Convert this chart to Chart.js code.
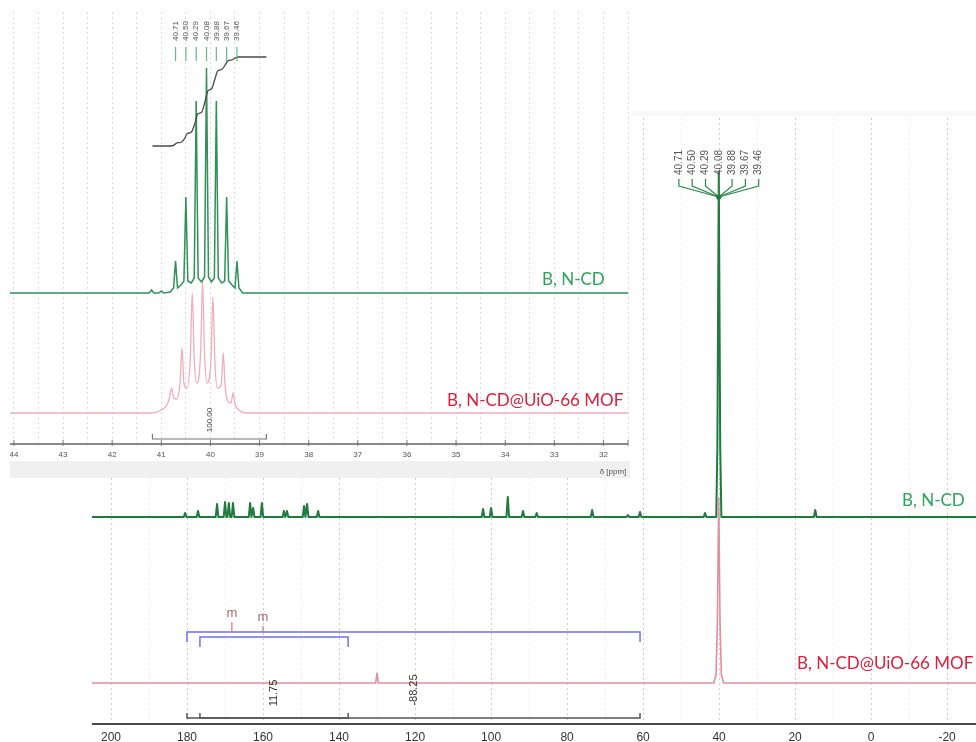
<!DOCTYPE html>
<html>
<head>
<meta charset="utf-8">
<title>13C NMR – B, N-CD and B, N-CD@UiO-66 MOF</title>
<script src="https://cdn.jsdelivr.net/npm/chart.js@4.4.1/dist/chart.umd.min.js"></script>
<style>
  html, body { margin: 0; padding: 0; background: #fff; }
  #stage { position: relative; width: 976px; height: 742px; overflow: hidden; background: #fff; }
  #main { position: absolute; left: 0; top: 0; }
  #insetBox { position: absolute; left: 10px; top: 0; width: 622px; height: 478px; overflow: hidden; background: #fff; }
  #inset { position: absolute; left: -20px; top: 0; }
</style>
</head>
<body>
<div id="stage">
  <canvas id="main" width="976" height="742"></canvas>
  <div id="insetBox"><canvas id="inset" width="652" height="478"></canvas></div>
</div>
<script>
// ---------------- full spectrum (δ, ppm) ----------------
const mainTickLabels = [200, 180, 160, 140, 120, 100, 80, 60, 40, 20, 0, -20];

// B, N-CD: resolved carbon lines and their heights
const cdShiftPpm    = [180.5, 177.1, 172.1, 170.0, 169.0, 167.9, 163.4, 162.6, 160.3, 154.5, 153.7,
                       149.2, 148.4, 145.5, 102.1, 100.0, 95.6, 91.6, 88.0, 73.4, 64.0, 60.8, 43.7, 14.7];
const cdShiftHeight = [4, 6, 13, 15, 14, 14, 14, 9, 14, 6, 6,
                       11, 13, 6, 8, 9, 20, 6, 4, 7, 2, 5, 4, 7];
// DMSO-d6 septet as seen at full width
const cdSolventPpm    = [40.75, 40.45, 40.08, 39.70, 39.40];
const cdSolventHeight = [0, 70, 345, 70, 0];

// B, N-CD@UiO-66 MOF
const mofShiftPpm    = [130.0];
const mofShiftHeight = [10];
const mofSolventPpm    = [41.4, 40.8, 40.45, 40.1, 39.75, 39.4, 38.8];
const mofSolventHeight = [0, 8, 60, 185, 60, 8, 0];

// integration regions (ppm) and their values
const integralFrom   = [180.0, 176.6];
const integralTo     = [60.8, 137.6];
const integralLabels = ['-88.25', '11.75'];
// multiplet markers
const multipletPpm    = [168.2, 160.0];
const multipletLabels = ['m', 'm'];

// ---------------- expansion 31.5 – 44 ppm ----------------
const insetTickLabels = [44, 43, 42, 41, 40, 39, 38, 37, 36, 35, 34, 33, 32];
const septetPpm = [40.71, 40.50, 40.29, 40.08, 39.88, 39.67, 39.46];

const insetCdPpm = [44.08, 41.25, 41.20, 41.15, 41.05, 41.00, 40.95, 40.82, 40.75, 40.71, 40.67, 40.60,
                    40.54, 40.50, 40.46, 40.39, 40.33, 40.29, 40.25, 40.18, 40.12, 40.08, 40.04, 39.98,
                    39.92, 39.88, 39.84, 39.77, 39.71, 39.67, 39.63, 39.56, 39.50, 39.46, 39.42, 39.34, 31.5];
const insetCdInt = [0, 0, 3, 0, 0, 2, 0, 1, 5, 32, 5, 8,
                    12, 96, 12, 10, 15, 192, 15, 11, 16, 225, 16, 11,
                    15, 192, 15, 10, 12, 96, 12, 8, 5, 32, 5, 0, 0];

const insetMofPpm = [44.08, 41.20, 41.00, 40.90, 40.84, 40.79, 40.75, 40.69, 40.62, 40.58, 40.54, 40.48,
                     40.41, 40.37, 40.33, 40.28, 40.20, 40.16, 40.12, 40.07, 39.99, 39.95, 39.91, 39.86,
                     39.78, 39.74, 39.70, 39.65, 39.58, 39.54, 39.50, 39.42, 39.25, 31.5];
const insetMofInt = [0, 0, 3, 7, 14, 25, 15, 14, 30, 65, 30, 25,
                     55, 120, 55, 30, 60, 131, 60, 30, 52, 116, 52, 25,
                     28, 60, 26, 12, 10, 20, 9, 3, 0, 0];

// running integral of the septet (%)
const integralPpm = [41.18, 40.80, 40.74, 40.68, 40.60, 40.53, 40.47, 40.39, 40.32, 40.26, 40.18,
                     40.11, 40.05, 39.98, 39.91, 39.85, 39.77, 39.70, 39.64, 39.56, 39.49, 39.43, 38.86];
const integralPct = [0, 0, 1.0, 3.5, 4.2, 8, 14, 15.5, 25, 36, 38,
                     50, 62, 64, 75, 84.5, 86, 91, 96, 96.8, 99, 100, 100];
const integralTotal = '100.00';

// ---------------- layout constants ----------------
const MAIN_MIN = -27.6, MAIN_MAX = 205;
const MAIN_CD_BASE = 207, MAIN_MOF_BASE = 41;     // vertical offsets of stacked traces
const LINE_HW = 0.35;                              // drawn half-width of a single line (ppm)
const INSET_MIN = 31.5, INSET_MAX = 44.08;
const INSET_CD_BASE = 151, INSET_MOF_BASE = 31;
const INT_BASE = 298, INT_SCALE = 0.89;

const GREEN = '#1f7a3d', PINK = '#e38d9e';
const LABEL_GREEN = '#2ea35a', LABEL_RED = '#e01e3c';
const LABEL_FONT = '17px Lato, "Open Sans", sans-serif';

function buildSpectrum(shiftPpm, shiftHeight, multPpm, multHeight, offset, lo, hi) {
  const pts = [{ x: hi, y: offset }, { x: lo, y: offset }];
  shiftPpm.forEach((p, i) => {
    pts.push({ x: p + LINE_HW, y: offset }, { x: p, y: offset + shiftHeight[i] }, { x: p - LINE_HW, y: offset });
  });
  multPpm.forEach((p, i) => pts.push({ x: p, y: offset + multHeight[i] }));
  return pts.sort((a, b) => b.x - a.x);
}
const pairs = (xs, ys, offset = 0, scale = 1) => xs.map((x, i) => ({ x, y: offset + ys[i] * scale }));

function rotatedText(ctx, text, x, y, align) {
  ctx.save();
  ctx.translate(x, y);
  ctx.rotate(-Math.PI / 2);
  ctx.textAlign = align;
  ctx.textBaseline = 'middle';
  ctx.fillText(text, 0, 0);
  ctx.restore();
}
function bracket(ctx, x1, x2, y, dy) {
  ctx.beginPath();
  ctx.moveTo(x1, y + dy); ctx.lineTo(x1, y); ctx.lineTo(x2, y); ctx.lineTo(x2, y + dy);
  ctx.stroke();
}

// ---------------- full spectrum chart ----------------
const mainGrid = [];
mainTickLabels.forEach(v => { mainGrid.push(v); if (v > -20) mainGrid.push(v - 10); });

const mainDecor = {
  id: 'mainDecor',
  beforeDraw(chart) {
    const ctx = chart.ctx;
    ctx.save();
    ctx.fillStyle = '#f8f8f8';
    ctx.fillRect(630, 111, 346, 5);
    ctx.restore();
  },
  afterDraw(chart) {
    const { ctx, chartArea: a, scales: { x } } = chart;
    ctx.save();
    // axis line
    ctx.strokeStyle = '#4a4a4a'; ctx.lineWidth = 2;
    ctx.beginPath(); ctx.moveTo(a.left, a.bottom); ctx.lineTo(a.right, a.bottom); ctx.stroke();

    // septet fan above the solvent line
    const cx = x.getPixelForValue(septetPpm[3]);
    const jy = 197;
    ctx.strokeStyle = '#2f8a4c'; ctx.lineWidth = 1.2;
    ctx.fillStyle = '#555'; ctx.font = '10px "Liberation Sans", Arial, sans-serif';
    septetPpm.forEach((p, i) => {
      const lx = cx + (i - 3) * 13.3;
      rotatedText(ctx, p.toFixed(2), lx, 175, 'left');
      ctx.beginPath(); ctx.moveTo(lx, 179); ctx.lineTo(lx, 186); ctx.lineTo(cx, jy); ctx.stroke();
    });
    ctx.fillStyle = GREEN;
    ctx.beginPath(); ctx.arc(cx, jy, 2.6, 0, Math.PI * 2); ctx.fill();

    // trace labels
    ctx.font = LABEL_FONT; ctx.textAlign = 'left'; ctx.textBaseline = 'alphabetic';
    ctx.fillStyle = LABEL_GREEN; ctx.fillText('B, N-CD', 902, 506);
    ctx.fillStyle = LABEL_RED; ctx.fillText('B, N-CD@UiO-66 MOF', 797, 669);

    // integration brackets (blue)
    ctx.strokeStyle = '#6f6ff0'; ctx.lineWidth = 1.5;
    bracket(ctx, x.getPixelForValue(integralFrom[0]), x.getPixelForValue(integralTo[0]), 632, 10);
    bracket(ctx, x.getPixelForValue(integralFrom[1]), x.getPixelForValue(integralTo[1]), 637, 10);

    // multiplet markers
    ctx.strokeStyle = '#e0707e'; ctx.lineWidth = 1.2;
    ctx.fillStyle = '#a86a6a'; ctx.font = '13px "Liberation Sans", Arial, sans-serif';
    ctx.textAlign = 'center';
    multipletPpm.forEach((p, i) => {
      const px = x.getPixelForValue(p);
      const top = i === 0 ? 622 : 626;
      ctx.beginPath(); ctx.moveTo(px, top); ctx.lineTo(px, 632); ctx.stroke();
      ctx.fillText(multipletLabels[i], px, top - 5);
    });

    // integral ranges on the axis (grey) with values
    ctx.strokeStyle = '#555'; ctx.lineWidth = 1.5;
    bracket(ctx, x.getPixelForValue(integralFrom[0]), x.getPixelForValue(integralTo[0]), 718, -5);
    bracket(ctx, x.getPixelForValue(integralFrom[1]), x.getPixelForValue(integralTo[1]), 718, -5);
    ctx.fillStyle = '#333'; ctx.font = '11px "Liberation Sans", Arial, sans-serif';
    integralLabels.forEach((t, i) => {
      const mid = (integralFrom[i] + integralTo[i]) / 2;
      rotatedText(ctx, t, x.getPixelForValue(mid), i === 0 ? 690 : 693, 'center');
    });
    ctx.restore();
  }
};

new Chart(document.getElementById('main'), {
  type: 'scatter',
  data: {
    datasets: [
      { label: 'B, N-CD', order: 0, showLine: true, pointRadius: 0, borderWidth: 2, borderColor: GREEN,
        borderJoinStyle: 'round',
        data: buildSpectrum(cdShiftPpm, cdShiftHeight, cdSolventPpm, cdSolventHeight, MAIN_CD_BASE, MAIN_MIN, MAIN_MAX) },
      { label: 'B, N-CD@UiO-66 MOF', order: 1, showLine: true, pointRadius: 0, borderWidth: 1.6, borderColor: PINK,
        borderJoinStyle: 'round',
        data: buildSpectrum(mofShiftPpm, mofShiftHeight, mofSolventPpm, mofSolventHeight, MAIN_MOF_BASE, MAIN_MIN, MAIN_MAX) }
    ]
  },
  options: {
    responsive: false, animation: false, events: [],
    layout: { padding: { left: 92, right: 0, top: 118, bottom: 0 } },
    plugins: { legend: { display: false }, tooltip: { enabled: false } },
    scales: {
      x: {
        type: 'linear', reverse: true, min: MAIN_MIN, max: MAIN_MAX,
        afterBuildTicks: s => { s.ticks = mainGrid.map(v => ({ value: v })); },
        afterFit: s => { s.height = 18; s.paddingLeft = 0; s.paddingRight = 0; },
        grid: { drawTicks: false, lineWidth: 1,
                color: c => (c.tick && mainTickLabels.includes(c.tick.value)) ? '#cdcdcd' : '#ececec' },
        border: { display: false, dash: [2, 3] },
        ticks: { autoSkip: false, maxRotation: 0, minRotation: 0, padding: 6, color: '#333',
                 font: { family: '"Liberation Sans", Arial, sans-serif', size: 12 },
                 callback: v => mainTickLabels.includes(v) ? String(v) : '' }
      },
      y: { display: false, min: 0, max: 606 }
    }
  },
  plugins: [mainDecor]
});

// ---------------- expansion chart ----------------
const insetGrid = [];
insetTickLabels.forEach(v => { insetGrid.push(v); insetGrid.push(v - 0.5); });

const insetDecor = {
  id: 'insetDecor',
  beforeDraw(chart) {
    const { ctx, chartArea: a } = chart;
    ctx.save();
    ctx.fillStyle = '#f0f0f0';
    ctx.fillRect(a.left, 461, a.right - a.left + 2, 17);
    ctx.restore();
  },
  afterDraw(chart) {
    const { ctx, chartArea: a, scales: { x } } = chart;
    ctx.save();
    // axis line with small ticks
    ctx.strokeStyle = '#8a8a8a'; ctx.lineWidth = 2;
    ctx.beginPath(); ctx.moveTo(a.left, a.bottom); ctx.lineTo(a.right, a.bottom); ctx.stroke();
    ctx.lineWidth = 1; ctx.strokeStyle = '#777';
    insetTickLabels.forEach(v => {
      const px = x.getPixelForValue(v);
      ctx.beginPath(); ctx.moveTo(px, a.bottom - 4); ctx.lineTo(px, a.bottom + 2); ctx.stroke();
    });
    ctx.beginPath(); ctx.moveTo(a.right, a.bottom - 4); ctx.lineTo(a.right, a.bottom + 2); ctx.stroke();

    ctx.fillStyle = '#555'; ctx.font = '8px "Liberation Sans", Arial, sans-serif';
    ctx.textAlign = 'center'; ctx.textBaseline = 'middle';
    ctx.fillText('δ [ppm]', a.right - 15, 472);

    // peak picking of the septet
    ctx.strokeStyle = '#6ab38a'; ctx.lineWidth = 1.2;
    ctx.font = '8px "Liberation Sans", Arial, sans-serif'; ctx.fillStyle = '#555';
    septetPpm.forEach(p => {
      const px = x.getPixelForValue(p);
      rotatedText(ctx, p.toFixed(2), px, 41, 'left');
      ctx.beginPath(); ctx.moveTo(px, 47); ctx.lineTo(px, 61); ctx.stroke();
    });

    // integral range and value
    ctx.strokeStyle = '#777'; ctx.lineWidth = 1.2;
    bracket(ctx, x.getPixelForValue(integralPpm[0]), x.getPixelForValue(integralPpm[integralPpm.length - 1]), 439, -5);
    ctx.fillStyle = '#444'; ctx.font = '8px "Liberation Sans", Arial, sans-serif';
    const mid = (integralPpm[0] + integralPpm[integralPpm.length - 1]) / 2;
    rotatedText(ctx, integralTotal, x.getPixelForValue(mid), 420, 'center');

    // trace labels
    ctx.font = LABEL_FONT; ctx.textAlign = 'left'; ctx.textBaseline = 'alphabetic';
    ctx.fillStyle = LABEL_GREEN; ctx.fillText('B, N-CD', 552, 285);
    ctx.fillStyle = LABEL_RED; ctx.fillText('B, N-CD@UiO-66 MOF', 457, 406);
    ctx.restore();
  }
};

new Chart(document.getElementById('inset'), {
  type: 'scatter',
  data: {
    datasets: [
      { label: 'integral', order: -1, showLine: true, pointRadius: 0, borderWidth: 1.3, borderColor: '#4a4a4a',
        cubicInterpolationMode: 'monotone',
        data: pairs(integralPpm, integralPct, INT_BASE, INT_SCALE) },
      { label: 'B, N-CD', order: 0, showLine: true, pointRadius: 0, borderWidth: 1.5, borderColor: '#2f9158',
        data: pairs(insetCdPpm, insetCdInt, INSET_CD_BASE) },
      { label: 'B, N-CD@UiO-66 MOF', order: 1, showLine: true, pointRadius: 0, borderWidth: 1.3, borderColor: '#f0adbb',
        cubicInterpolationMode: 'monotone',
        data: pairs(insetMofPpm, insetMofInt, INSET_MOF_BASE) }
    ]
  },
  options: {
    responsive: false, animation: false, events: [],
    layout: { padding: { left: 20, right: 14, top: 12, bottom: 0 } },
    plugins: { legend: { display: false }, tooltip: { enabled: false } },
    scales: {
      x: {
        type: 'linear', reverse: true, min: INSET_MIN, max: INSET_MAX,
        afterBuildTicks: s => { s.ticks = insetGrid.map(v => ({ value: v })); },
        afterFit: s => { s.height = 34; s.paddingLeft = 0; s.paddingRight = 0; },
        grid: { drawTicks: false, lineWidth: 1, color: '#dcdcdc' },
        border: { display: false, dash: [2, 3] },
        ticks: { autoSkip: false, maxRotation: 0, minRotation: 0, padding: 6, color: '#555',
                 font: { family: '"Liberation Sans", Arial, sans-serif', size: 8 },
                 callback: v => insetTickLabels.includes(v) ? String(v) : '' }
      },
      y: { display: false, min: 0, max: 432 }
    }
  },
  plugins: [insetDecor]
});
</script>
</body>
</html>
